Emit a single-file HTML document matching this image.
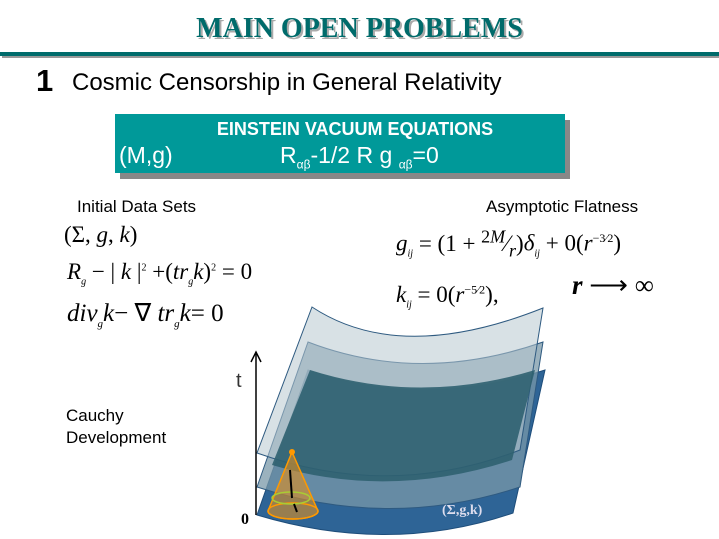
<!DOCTYPE html>
<html><head><meta charset="utf-8"><style>
body{margin:0;width:719px;height:539px;background:#fff;position:relative;overflow:hidden;font-family:"Liberation Sans",sans-serif}
.a{position:absolute;white-space:nowrap}
.m{font-family:"Liberation Serif",serif;font-style:italic;font-size:23px;color:#000}
</style></head><body>
<div class="a" style="left:0;width:719px;top:13px;text-align:center;font-family:'Liberation Serif',serif;font-weight:bold;font-size:28px;color:#006b6b;text-shadow:2px 2px 0 #aaa">MAIN OPEN PROBLEMS</div>
<div class="a" style="left:0;top:52px;width:719px;height:4px;background:#006b6b"></div>
<div class="a" style="left:2px;top:56px;width:717px;height:2px;background:#999"></div>
<div class="a" style="left:36px;top:63px;font-size:31px;font-weight:bold">1</div>
<div class="a" style="left:72px;top:69px;font-size:24px">Cosmic Censorship in General Relativity</div>
<div class="a" style="left:120px;top:120px;width:450px;height:59px;background:#888"></div>
<div class="a" style="left:115px;top:114px;width:450px;height:59px;background:#009999"></div>
<div class="a" style="left:115px;top:119px;width:480px;text-align:center;color:#fff;font-weight:bold;font-size:18px">EINSTEIN VACUUM EQUATIONS</div>
<div class="a" style="left:119px;top:142px;color:#fff;font-size:23px">(M,g)</div>
<div class="a" style="left:280px;top:142px;color:#fff;font-size:23px">R<sub style="font-size:12px">αβ</sub>-1/2 R g <sub style="font-size:12px">αβ</sub>=0</div>
<div class="a" style="left:77px;top:197px;font-size:17px">Initial Data Sets</div>
<div class="a" style="left:486px;top:197px;font-size:17px">Asymptotic Flatness</div>
<div class="a m" style="left:64px;top:222px;font-style:normal">(Σ, <i>g</i>, <i>k</i>)</div>
<div class="a m" style="left:67px;top:259px"><i>R<sub style="font-size:10px">g</sub></i><span style="font-style:normal"> − | </span>k<span style="font-style:normal"> |<sup style="font-size:10px">2</sup> +(</span>tr<sub style="font-size:10px">g</sub>k<span style="font-style:normal">)<sup style="font-size:10px">2</sup> = 0</span></div>
<div class="a m" style="left:67px;top:298px;font-size:25px">div<sub style="font-size:11px">g</sub>k<span style="font-style:normal">− ∇ </span>tr<sub style="font-size:11px">g</sub>k<span style="font-style:normal">= 0</span></div>
<div class="a m" style="left:396px;top:226px">g<sub style="font-size:10px">ij</sub><span style="font-style:normal"> = (1 + <sup style="font-size:18px">2<i>M</i></sup>⁄<sub style="font-size:18px"><i>r</i></sub>)</span>δ<sub style="font-size:10px">ij</sub><span style="font-style:normal"> + 0(</span>r<sup style="font-size:12px;font-style:normal">−3⁄2</sup><span style="font-style:normal">)</span></div>
<div class="a m" style="left:396px;top:282px">k<sub style="font-size:10px">ij</sub><span style="font-style:normal"> = 0(</span>r<sup style="font-size:12px;font-style:normal">−5⁄2</sup><span style="font-style:normal">),</span></div>
<div class="a m" style="left:572px;top:270px;font-size:27px;font-weight:bold">r <span style="font-style:normal;font-weight:normal">⟶ ∞</span></div>
<div class="a" style="left:236px;top:370px;font-size:20px;color:#333">t</div>
<div class="a" style="left:66px;top:405px;font-size:17px;line-height:22px">Cauchy<br>Development</div>
<svg class="a" style="left:0;top:0" width="719" height="539">
<path d="M308,370 Q420,410 545,370 L513,513 Q390,555 257,515 Z" fill="#2e6496" stroke="#1e4d7a"/>
<path d="M308,342 Q420,385 543,342 L520,487 Q390,530 257,487 Z" fill="#7a98a8" fill-opacity="0.75" stroke="#2e5a80"/>
<path d="M312,307 Q400,365 543,308 L520,450 Q390,500 257,453 Z" fill="#b8c8d0" fill-opacity="0.55" stroke="#2e5a80"/>
<path d="M310,370 Q420,405 535,370 L512,460 Q390,500 272,465 Z" fill="#2f6070" fill-opacity="0.9"/>
<line x1="256" y1="515" x2="256" y2="354" stroke="#000" stroke-width="1.5"/>
<path d="M251,362 L256,352 L261,362" fill="none" stroke="#000" stroke-width="1.5"/>
<text x="241" y="524" font-family="Liberation Serif" font-weight="bold" font-size="16">0</text>
<path d="M292,452 L268,511 A25,8 0 0 0 318,511 Z" fill="#e09020" fill-opacity="0.6" stroke="#ff9900" stroke-width="1.5"/>
<ellipse cx="293" cy="511" rx="25" ry="8" fill="none" stroke="#ff9900" stroke-width="1.5"/>
<ellipse cx="291" cy="498" rx="19" ry="6" fill="none" stroke="#aacc33" stroke-width="1.5"/>
<line x1="290" y1="470" x2="292" y2="498" stroke="#000" stroke-width="2"/>
<line x1="294" y1="504" x2="297" y2="512" stroke="#000" stroke-width="2"/>
<circle cx="292" cy="452" r="3" fill="#ff9900"/>
<text x="442" y="514" font-family="Liberation Serif" font-weight="bold" font-size="14" fill="#dde">(Σ,g,k)</text>
</svg>
</body></html>
